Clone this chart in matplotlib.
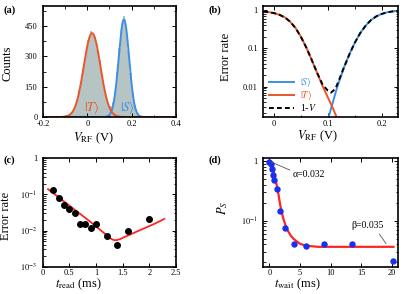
import numpy as np
import matplotlib
matplotlib.use('Agg')
import matplotlib.pyplot as plt
from matplotlib.ticker import MultipleLocator, FixedLocator, NullFormatter, LogLocator

plt.rcParams['font.family'] = ['Liberation Serif', 'DejaVu Serif']
plt.rcParams['mathtext.fontset'] = 'stix'

# (a) readout histogram, 0.01 V bins starting at -0.10 V
bin_left = np.round(np.arange(-0.10, 0.25, 0.01), 3)
counts = [3, 7, 16, 28, 54, 84, 136, 188, 262, 318,
          382, 428, 405, 394, 336, 282, 208, 153, 101, 65,
          56, 72, 122, 221, 341, 446, 500, 438, 334, 218,
          112, 53, 18, 7, 2]
# gaussian fits: amplitude, centre (V), width (V)
fit_T = (415, 0.0215, 0.0375)
fit_S = (483, 0.165, 0.0236)

# (b) error rates vs threshold
vT = [-0.02, -0.01, 0.0, 0.01, 0.02, 0.03, 0.04, 0.05, 0.06, 0.07, 0.08, 0.09, 0.10, 0.11, 0.117]
errT = [0.92, 0.89, 0.84, 0.76, 0.65, 0.50, 0.34, 0.20, 0.105, 0.050, 0.023, 0.0105, 0.0052, 0.0026, 0.0015]
vS = [0.101, 0.105, 0.11, 0.115, 0.12, 0.13, 0.14, 0.15, 0.16, 0.17, 0.18, 0.19, 0.20, 0.21, 0.22, 0.23]
errS = [0.0015, 0.0024, 0.0042, 0.0075, 0.0125, 0.032, 0.07, 0.14, 0.25, 0.39, 0.55, 0.69, 0.80, 0.88, 0.93, 0.96]
vV = [-0.02, -0.01, 0.0, 0.01, 0.02, 0.03, 0.04, 0.05, 0.06, 0.07, 0.08, 0.09, 0.10, 0.106,
      0.11, 0.115, 0.12, 0.13, 0.14, 0.15, 0.16, 0.17, 0.18, 0.19, 0.20, 0.21, 0.22, 0.23]
err1V = [0.92, 0.89, 0.84, 0.76, 0.65, 0.50, 0.34, 0.20, 0.105, 0.050, 0.023, 0.0115, 0.0078, 0.0070,
         0.0078, 0.0095, 0.014, 0.032, 0.07, 0.14, 0.25, 0.39, 0.55, 0.69, 0.80, 0.88, 0.93, 0.96]

# (c) error rate vs read time
t_read = [0.2, 0.3, 0.4, 0.5, 0.6, 0.7, 0.8, 0.9, 1.0, 1.2, 1.4, 1.6, 2.0]
err_read = [0.13, 0.08, 0.05, 0.04, 0.03, 0.015, 0.015, 0.012, 0.015, 0.007, 0.004, 0.01, 0.021]
t_read_fit = [0.1, 0.3, 0.5, 0.7, 0.9, 1.1, 1.2, 1.25, 1.3, 1.35, 1.4, 1.45, 1.5, 1.7, 1.9, 2.1, 2.28]
err_read_fit = [0.14, 0.083, 0.049, 0.029, 0.0172, 0.0098, 0.0074, 0.0064, 0.0057, 0.0054, 0.0055,
                0.0058, 0.0063, 0.0085, 0.0115, 0.0155, 0.021]

# (d) singlet probability vs wait time
t_wait = [0.0, 0.2, 0.4, 0.6, 0.8, 1.2, 1.8, 2.6, 4.0, 6.0, 9.0, 13.5, 20.2]
p_s = [0.97, 0.88, 0.72, 0.58, 0.47, 0.34, 0.145, 0.076, 0.041, 0.037, 0.041, 0.041, 0.021]
t_wait_fit = [0.0, 0.3, 0.7, 1.0, 1.3, 1.8, 2.2, 2.6, 3.0, 3.5, 4.0, 5.0, 6.0, 8.0, 20.3]
p_s_fit = [0.97, 0.86, 0.64, 0.48, 0.35, 0.175, 0.115, 0.085, 0.068, 0.056, 0.049, 0.041, 0.038, 0.0365, 0.0365]

c_T = '#e8562a'
c_S = '#3d8fe6'
c_fit = '#ff2424'

fig = plt.figure(figsize=(4.15, 2.94), dpi=100)
axa = fig.add_axes([0.1036, 0.602, 0.3205, 0.378])
axb = fig.add_axes([0.6345, 0.602, 0.324, 0.378])
axc = fig.add_axes([0.1029, 0.0929, 0.3214, 0.3687])
axd = fig.add_axes([0.6345, 0.0929, 0.324, 0.3687])

for ax in (axa, axb, axc, axd):
    ax.tick_params(which='both', direction='in', top=True, right=True, labelsize=6, pad=2)
    ax.tick_params(axis='y', pad=4)
    ax.tick_params(which='major', length=3, width=0.7)
    ax.tick_params(which='minor', length=1.8, width=0.6)
    for s in ax.spines.values():
        s.set_linewidth(1.2)

# ---- (a)
axa.bar(bin_left, counts, width=0.01, align='edge', color='#b7c4c4', edgecolor='none')
v = np.linspace(-0.2, 0.4, 600)
for (A, mu, sig), col in ((fit_S, c_S), (fit_T, c_T)):
    axa.plot(v, A * np.exp(-(v - mu) ** 2 / (2 * sig ** 2)), color=col, lw=1.4)
axa.set_xlim(-0.2, 0.4)
axa.set_ylim(0, 550)
axa.xaxis.set_major_locator(FixedLocator([-0.2, 0, 0.2, 0.4]))
axa.set_xticklabels(['-0.2', '0', '0.2', '0.4'])
axa.xaxis.set_minor_locator(MultipleLocator(0.1))
axa.yaxis.set_major_locator(MultipleLocator(150))
axa.yaxis.set_minor_locator(MultipleLocator(75))
axa.text(0.022, 49, r'$|T\rangle$', color=c_T, fontsize=9, ha='center', va='center')
axa.text(0.181, 49, r'$|S\rangle$', color=c_S, fontsize=9, ha='center', va='center')
axa.set_xlabel(r'$V_{\rm RF}$ (V)', fontsize=9)
axa.set_ylabel('Counts', fontsize=9)
axa.xaxis.set_label_coords(0.376, -0.12)
axa.yaxis.set_label_coords(-0.218, 0.484)

# ---- (b)
axb.plot(vS, errS, color=c_S, lw=1.4, label=r'$|S\rangle$')
axb.plot(vT, errT, color=c_T, lw=1.4, label=r'$|T\rangle$')
axb.plot(vV, err1V, color='black', lw=1.4, ls=(0, (2.5, 1.6)), label=r'1-$V$')
axb.set_yscale('log')
axb.set_xlim(-0.02, 0.23)
axb.set_ylim(0.0016, 1.3)
axb.xaxis.set_major_locator(FixedLocator([0, 0.1, 0.2]))
axb.set_xticklabels(['0', '0.1', '0.2'])
axb.xaxis.set_minor_locator(MultipleLocator(0.05))
axb.yaxis.set_major_locator(FixedLocator([0.01, 0.1, 1]))
axb.set_yticklabels(['0.01', '0.1', '1'])
axb.yaxis.set_minor_locator(LogLocator(subs=np.arange(2, 10)))
axb.yaxis.set_minor_formatter(NullFormatter())
leg = axb.legend(loc='lower left', bbox_to_anchor=(0.0, -0.02), frameon=False, fontsize=7,
                 handlelength=2.6, handletextpad=0.6, labelspacing=0.0, borderaxespad=0.2)
for txt, col in zip(leg.get_texts(), (c_S, c_T, 'black')):
    txt.set_color(col)
axb.set_xlabel(r'$V_{\rm RF}$ (V)', fontsize=9)
axb.set_ylabel('Error rate', fontsize=9)
axb.xaxis.set_label_coords(0.40, -0.10)
axb.yaxis.set_label_coords(-0.235, 0.54)

# ---- (c)
axc.plot(t_read_fit, err_read_fit, color=c_fit, lw=1.3)
axc.plot(t_read, err_read, 'o', color='black', ms=4)
axc.set_yscale('log')
axc.set_xlim(0, 2.5)
axc.set_ylim(1e-3, 1)
axc.xaxis.set_major_locator(FixedLocator([0, 0.5, 1, 1.5, 2, 2.5]))
axc.set_xticklabels(['0', '0.5', '1', '1.5', '2', '2.5'])
axc.yaxis.set_major_locator(FixedLocator([1e-3, 1e-2, 1e-1, 1]))
axc.set_yticklabels([r'$10^{-3}$', r'$10^{-2}$', r'$10^{-1}$', '1'])
axc.yaxis.set_minor_locator(LogLocator(subs=np.arange(2, 10)))
axc.yaxis.set_minor_formatter(NullFormatter())
axc.set_xlabel(r'$t_{\rm read}$ (ms)', fontsize=9)
axc.set_ylabel('Error rate', fontsize=9)
axc.xaxis.set_label_coords(0.263, -0.095)
axc.yaxis.set_label_coords(-0.233, 0.47)

# ---- (d)
axd.plot(t_wait_fit, p_s_fit, color=c_fit, lw=1.6)
axd.plot(t_wait, p_s, 'o', color='#1a2ff0', ms=3.6)
axd.set_yscale('log')
axd.set_xlim(-1, 21)
axd.set_ylim(0.017, 1.1)
axd.xaxis.set_major_locator(FixedLocator([0, 5, 10, 15, 20]))
axd.set_xticklabels(['0', '5', '10', '15', '20'])
axd.yaxis.set_major_locator(FixedLocator([0.1, 1]))
axd.set_yticklabels([r'$10^{-1}$', '1'])
axd.yaxis.set_minor_locator(LogLocator(subs=np.arange(2, 10)))
axd.yaxis.set_minor_formatter(NullFormatter())
axd.annotate('α=0.032', xy=(0.25, 0.96), xytext=(3.8, 0.58), fontsize=7, ha='left', va='center',
             arrowprops=dict(arrowstyle='-', color='#555555', lw=0.6, relpos=(0, 0.9),
                             shrinkA=0, shrinkB=0))
axd.annotate('β=0.035', xy=(19.1, 0.041), xytext=(13.4, 0.0826), fontsize=7, ha='left', va='center',
             arrowprops=dict(arrowstyle='-', color='#555555', lw=0.6, relpos=(0.78, 0),
                             shrinkA=1, shrinkB=0))
axd.set_xlabel(r'$t_{\rm wait}$ (ms)', fontsize=9)
axd.set_ylabel(r'$P_{S}$', fontsize=9)
axd.xaxis.set_label_coords(0.254, -0.095)
axd.yaxis.set_label_coords(-0.248, 0.54)

for x, y, lab in ((0.008, 0.965, '(a)'), (0.503, 0.965, '(b)'), (0.008, 0.455, '(c)'), (0.503, 0.455, '(d)')):
    fig.text(x, y, lab, fontsize=7.5, fontweight='bold', va='center')

fig.savefig('out.png', dpi=100)
